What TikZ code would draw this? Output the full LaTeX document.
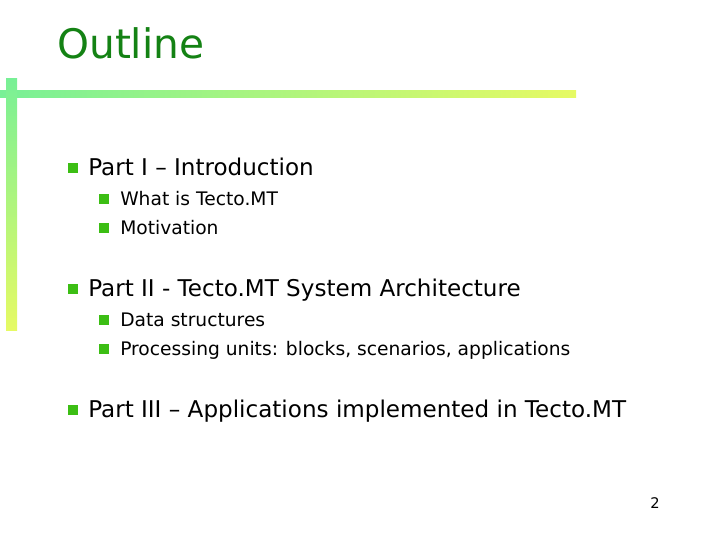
\documentclass[tikz,border=0pt]{standalone}
\usepackage{fontspec}
\setmainfont{DejaVu Sans}
\definecolor{tgreen}{RGB}{20,130,20}
\definecolor{bgreen}{RGB}{120,240,150}
\definecolor{byellow}{RGB}{230,250,100}
\definecolor{bullet}{RGB}{60,190,20}
\begin{document}
\begin{tikzpicture}[x=0.75pt,y=-0.75pt,
  lvone/.style={anchor=base west,font=\fontsize{17.3}{20}\selectfont,inner sep=0pt},
  lvtwo/.style={anchor=base west,font=\fontsize{14}{16}\selectfont,inner sep=0pt},
  sq/.style={fill=bullet,minimum size=7pt,inner sep=0pt}]
\useasboundingbox (0,0) rectangle (720,540);
\shade[left color=bgreen,right color=byellow] (0,90) rectangle (576,97);
\shade[top color=bgreen,bottom color=byellow] (6,78) rectangle (17,330);
\node[anchor=base west,text=tgreen,font=\fontsize{30.5}{36}\selectfont,inner sep=0pt] (title) at (57,58) {Outline};
\node[sq] (b1) at (73,168) {};
\node[lvone] (t1) at (88,175) {Part I – Introduction};
\node[sq] (b11) at (104,199) {};
\node[lvtwo] (t11) at (120,205) {What is Tecto.MT};
\node[sq] (b12) at (104,228) {};
\node[lvtwo] (t12) at (120,234) {Motivation};
\node[sq] (b2) at (73,289) {};
\node[lvone] (t2) at (88,296) {Part II - Tecto.MT System Architecture};
\node[sq] (b21) at (104,320) {};
\node[lvtwo] (t21) at (120,326) {Data structures};
\node[sq] (b22) at (104,349) {};
\node[lvtwo] (t22) at (120,355) {Processing units: blocks, scenarios, applications};
\node[sq] (b3) at (73,410) {};
\node[lvone] (t3) at (88,417) {Part III – Applications implemented in Tecto.MT};
\node[anchor=base east,font=\fontsize{11}{13}\selectfont,inner sep=0pt] (pg) at (660,508) {2};
\end{tikzpicture}
\end{document}
